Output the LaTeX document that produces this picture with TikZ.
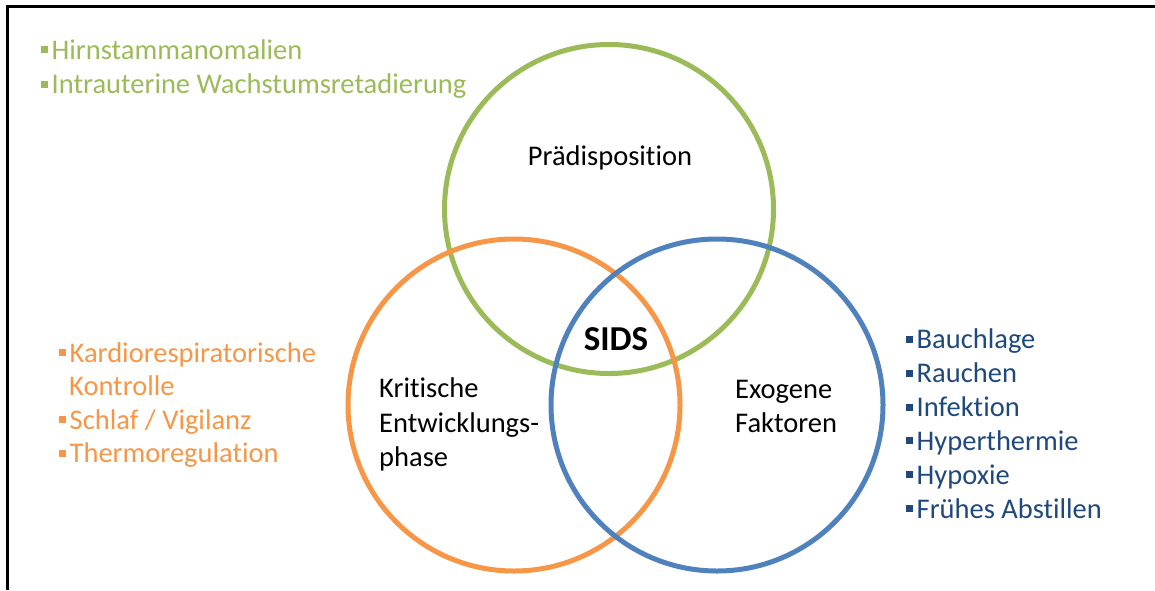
\documentclass[tikz,border=0pt]{standalone}
\usepackage{fontspec}
\setmainfont[Ligatures=NoCommon]{Carlito}
\definecolor{pgreen}{HTML}{9BBB59}
\definecolor{porange}{HTML}{F79646}
\definecolor{pblue}{HTML}{4F81BD}
\definecolor{ptext}{HTML}{1F497D}
\newcommand{\sqbullet}{\raisebox{6pt}{\rule{7pt}{7pt}}\hspace{3.5pt}}
\tikzset{
  ring/.style={line width=5pt},
  label/.style={inner sep=0pt, anchor=base west, font=\fontsize{28.5}{34}\selectfont},
  item/.style={label},
  frame/.style={line width=3pt, black}
}
\begin{document}
\begin{tikzpicture}[x=1pt, y=-1pt]
  \useasboundingbox (0,0) rectangle (1155,590);
  % frame lines
  \coordinate (fl) at (7.5,590);
  \coordinate (fc) at (7.5,6.5);
  \coordinate (fr) at (1155,6.5);
  \draw[frame] (fl) -- (fc) -- (fr);

  % the three circles
  \draw[ring, pgreen]  (609,209) circle (164.5);
  \draw[ring, porange] (514,405) circle (166);
  \draw[ring, pblue]   (717,405) circle (166);

  % circle labels
  \node[inner sep=0pt, anchor=base, font=\fontsize{28.5}{34}\selectfont] (pra) at (610,165) {Prädisposition};
  \node[inner sep=0pt, anchor=base, font=\fontsize{35}{40}\selectfont\bfseries] (sids) at (616,350) {SIDS};
  \node[label] (krit1) at (379,397) {Kritische};
  \node[label] (krit2) at (379,432) {Entwicklungs-};
  \node[label] (krit3) at (379,466) {phase};
  \node[label] (exo1) at (735,398) {Exogene};
  \node[label] (exo2) at (735,432) {Faktoren};

  % predisposition factors
  \node[item, text=pgreen] (g1) at (41,59) {\sqbullet Hirnstammanomalien};
  \node[item, text=pgreen] (g2) at (41,93.5) {\sqbullet Intrauterine Wachstumsretadierung};

  % developmental phase factors
  \node[item, text=porange] (o1) at (59,362) {\sqbullet Kardiorespiratorische};
  \node[item, text=porange] (o1b) at (69,395.5) {Kontrolle};
  \node[item, text=porange] (o2) at (59,429) {\sqbullet Schlaf / Vigilanz};
  \node[item, text=porange] (o3) at (59,462.5) {\sqbullet Thermoregulation};

  % exogenous factors
  \node[item, text=ptext] (b1) at (906,348.5) {\sqbullet Bauchlage};
  \node[item, text=ptext] (b2) at (906,382.5) {\sqbullet Rauchen};
  \node[item, text=ptext] (b3) at (906,416.5) {\sqbullet Infektion};
  \node[item, text=ptext] (b4) at (906,450) {\sqbullet Hyperthermie};
  \node[item, text=ptext] (b5) at (906,484) {\sqbullet Hypoxie};
  \node[item, text=ptext] (b6) at (906,518) {\sqbullet Frühes Abstillen};
\end{tikzpicture}
\end{document}
